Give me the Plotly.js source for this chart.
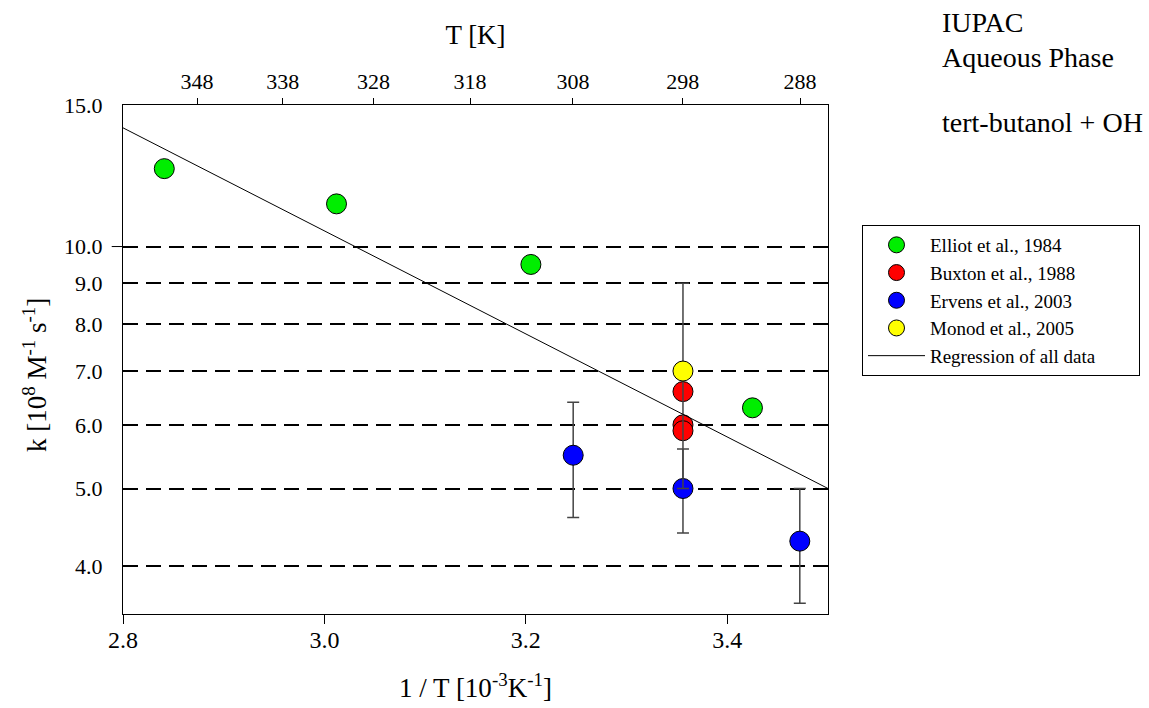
<!DOCTYPE html>
<html>
<head>
<meta charset="utf-8">
<script src="https://cdn.plot.ly/plotly-3.0.1.min.js"></script>
<style>html,body{margin:0;padding:0;background:#fff;overflow:hidden;width:1149px;height:708px;}#chart{width:1149px;height:708px;overflow:hidden;}</style>
</head>
<body>
<div id="chart"></div>
<script>
// Data (x = 1000/T in 10^-3 K^-1, y = k in 10^8 M^-1 s^-1)
const elliotX = [2.841, 3.012, 3.205, 3.425];
const elliotY = [12.5, 11.3, 9.5, 6.3];

const buxtonX = [3.356, 3.356, 3.356];
const buxtonY = [6.6, 6.0, 5.9];

const ervensX = [3.247, 3.356, 3.472];
const ervensY = [5.5, 5.0, 4.3];
const ervensErr = [0.9, 0.6, 0.7];

const monodX = [3.356];
const monodY = [7.0];
const monodErr = [2.0];

const regX = [2.8, 3.5];
const regY = [14.05, 5.0];

const yTickVals = [4, 5, 6, 7, 8, 9, 10, 15];
const yTickText = ['4.0', '5.0', '6.0', '7.0', '8.0', '9.0', '10.0', '15.0'];
const xTickVals = [2.8, 3.0, 3.2, 3.4];
const xTickText = ['2.8', '3.0', '3.2', '3.4'];
const topTemps = [348, 338, 328, 318, 308, 298, 288];

const FONT = 'Liberation Serif, Times New Roman, serif';

function markerStyle(color) {
  return {size: 20, color: color, line: {color: '#000', width: 1}};
}
function errStyle(arr) {
  return {type: 'data', array: arr, visible: true, color: '#444', thickness: 1.5, width: 6};
}

const traces = [
  {x: elliotX, y: elliotY, mode: 'markers', name: 'Elliot et al., 1984',
   marker: markerStyle('#00ee00'), legendgroup: 'a', legendrank: 1},
  {x: ervensX, y: ervensY, mode: 'markers', name: 'Ervens et al., 2003',
   marker: markerStyle('#0000ff'), error_y: errStyle(ervensErr), legendgroup: 'c', legendrank: 3},
  {x: buxtonX, y: buxtonY, mode: 'markers', name: 'Buxton et al., 1988',
   marker: markerStyle('#ff0000'), legendgroup: 'b', legendrank: 2},
  {x: monodX, y: monodY, mode: 'markers', name: 'Monod et al., 2005',
   marker: markerStyle('#ffff00'), error_y: errStyle(monodErr), legendgroup: 'd', legendrank: 4},
  {x: regX, y: regY, mode: 'lines', name: 'Regression of all data&nbsp;&nbsp;&nbsp;&nbsp;&nbsp;&nbsp;&nbsp;&nbsp;',
   line: {color: '#000', width: 1}, legendgroup: 'e', legendrank: 5},
  // invisible anchors so the top and tick-only axes are drawn
  {x: [3.0], y: [10], xaxis: 'x2', mode: 'markers', marker: {opacity: 0}, showlegend: false, hoverinfo: 'skip'},
  {x: [3.0], y: [10], xaxis: 'x3', mode: 'markers', marker: {opacity: 0}, showlegend: false, hoverinfo: 'skip'}
];

const W = 705, H = 509, L = 123, T = 105;
function px(x) { return (x - L) / W; }
function py(y) { return 1 - (y - T) / H; }

const layout = {
  width: 1149, height: 708,
  margin: {l: L, r: 1149 - L - W, t: T, b: 708 - T - H, autoexpand: false},
  paper_bgcolor: '#fff', plot_bgcolor: '#fff',
  font: {family: FONT, color: '#000', size: 22},
  showlegend: true,
  legend: {
    x: px(862), y: py(225), xanchor: 'left', yanchor: 'top',
    font: {family: FONT, size: 19, color: '#000'},
    bordercolor: '#000', borderwidth: 1, bgcolor: '#fff',
    traceorder: 'grouped', tracegroupgap: 0, itemwidth: 57
  },
  // bottom axis: labels only (transparent ticks set the label offset)
  xaxis: {
    range: [2.8, 3.5], tickvals: xTickVals, ticktext: xTickText,
    ticks: 'outside', ticklen: 4, tickwidth: 1, tickcolor: 'rgba(0,0,0,0)',
    showline: true, linecolor: '#000', linewidth: 1, showgrid: false, zeroline: false,
    tickfont: {family: FONT, size: 24, color: '#000'},
    title: {text: '1 / T [10<sup>-3</sup>K<sup>-1</sup>]', font: {family: FONT, size: 27}, standoff: 26}
  },
  // bottom axis: visible tick marks
  xaxis3: {
    overlaying: 'x', side: 'bottom', range: [2.8, 3.5], tickvals: xTickVals,
    showticklabels: false, ticks: 'outside', ticklen: 9, tickwidth: 1, tickcolor: '#000',
    showline: false, showgrid: false, zeroline: false
  },
  xaxis2: {
    overlaying: 'x', side: 'top', range: [2.8, 3.5],
    tickvals: topTemps.map(t => 1000 / t), ticktext: topTemps.map(String),
    ticks: 'outside', ticklen: 6, tickwidth: 1, tickcolor: '#000',
    showline: true, linecolor: '#000', linewidth: 1, showgrid: false, zeroline: false,
    tickfont: {family: FONT, size: 22, color: '#000'},
    title: {text: 'T [K]', font: {family: FONT, size: 27}, standoff: 16}
  },
  yaxis: {
    type: 'log', range: [Math.log10(3.49), Math.log10(15)],
    tickvals: yTickVals, ticktext: yTickText,
    ticks: 'outside', ticklen: 15, tickcolor: 'rgba(0,0,0,0)',
    showline: true, mirror: true, linecolor: '#000', linewidth: 1,
    showgrid: true, gridcolor: '#000', gridwidth: 2, griddash: '15px,8px',
    zeroline: false,
    tickfont: {family: FONT, size: 22, color: '#000'}
  },
  shapes: [
    {type: 'line', xref: 'paper', yref: 'y', x0: -0.016, x1: 0, y0: 10, y1: 10,
     line: {color: '#000', width: 1}}
  ],
  annotations: [
    {xref: 'paper', yref: 'paper', x: px(35), y: py(375), xanchor: 'center', yanchor: 'middle',
     textangle: -90, text: 'k [10<sup>8</sup> M<sup>-1</sup> s<sup>-1</sup>]', showarrow: false,
     font: {family: FONT, size: 27}},
    {xref: 'paper', yref: 'paper', x: px(940), y: py(22), xanchor: 'left', yanchor: 'middle',
     text: 'IUPAC', showarrow: false, font: {family: FONT, size: 28}},
    {xref: 'paper', yref: 'paper', x: px(940), y: py(57), xanchor: 'left', yanchor: 'middle',
     text: 'Aqueous Phase', showarrow: false, font: {family: FONT, size: 28}},
    {xref: 'paper', yref: 'paper', x: px(940), y: py(122), xanchor: 'left', yanchor: 'middle',
     text: 'tert-butanol + OH', showarrow: false, font: {family: FONT, size: 28}}
  ]
};

Plotly.newPlot('chart', traces, layout, {displayModeBar: false, staticPlot: true});
</script>
</body>
</html>
